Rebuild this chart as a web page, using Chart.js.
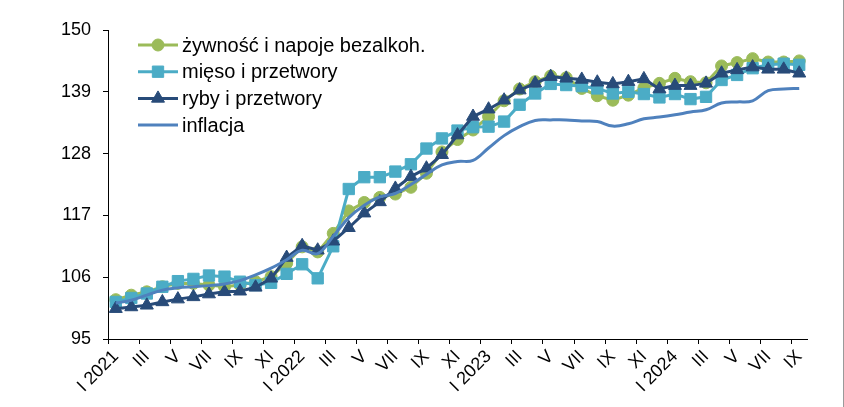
<!DOCTYPE html>
<html>
<head>
<meta charset="utf-8">
<script src="https://cdn.jsdelivr.net/npm/chart.js@4"></script>
<style>
  body { margin: 0; background: #fff; }
  #wrap { width: 844px; height: 407px; position: relative; }
</style>
</head>
<body>
<div id="wrap"><canvas id="chart"></canvas></div>
<script>
// months I 2021 .. IX 2024
const months = [
  "I 2021", "II", "III", "IV", "V", "VI", "VII", "VIII", "IX", "X", "XI", "XII",
  "I 2022", "II", "III", "IV", "V", "VI", "VII", "VIII", "IX", "X", "XI", "XII",
  "I 2023", "II", "III", "IV", "V", "VI", "VII", "VIII", "IX", "X", "XI", "XII",
  "I 2024", "II", "III", "IV", "V", "VI", "VII", "VIII", "IX"
];

const seriesNames = ["żywność i napoje bezalkoh.", "mięso i przetwory", "ryby i przetwory", "inflacja"];

const zywnosc = [102.0, 102.8, 103.4, 104.3, 104.9, 104.9, 104.6, 104.3, 104.6, 105.2, 106.1, 108.5,
  111.4, 110.5, 113.8, 117.8, 119.3, 120.2, 120.8, 122.0, 124.5, 128.3, 130.5, 132.2,
  134.6, 137.4, 139.5, 140.8, 141.8, 141.5, 139.6, 138.3, 137.5, 138.4, 139.7, 140.5,
  141.4, 140.8, 140.6, 143.6, 144.2, 144.9, 144.3, 144.3, 144.5];

const mieso = [101.6, 102.3, 103.1, 104.3, 105.3, 105.7, 106.3, 106.1, 105.2, 104.6, 105.0, 106.6,
  108.3, 105.8, 111.5, 121.7, 123.8, 123.8, 124.8, 126.1, 128.9, 130.7, 132.1, 132.7,
  132.8, 133.7, 136.7, 138.7, 140.4, 140.2, 140.0, 139.6, 138.7, 139.0, 138.6, 138.0,
  138.6, 137.7, 138.1, 141.1, 142.0, 143.2, 143.8, 144.0, 143.8];

const ryby = [100.4, 100.7, 101.0, 101.6, 102.1, 102.5, 103.0, 103.4, 103.5, 104.2, 105.8, 109.5,
  111.6, 110.8, 112.4, 114.8, 117.4, 119.4, 121.8, 123.9, 125.4, 127.8, 131.3, 134.6,
  135.9, 137.5, 139.3, 140.5, 141.7, 141.4, 141.2, 140.7, 140.4, 140.8, 141.3, 139.5,
  140.1, 140.1, 140.5, 142.3, 142.9, 143.4, 143.0, 143.0, 142.3];

const inflacja = [101.4, 101.9, 102.8, 103.7, 104.1, 104.3, 104.5, 104.8, 105.4, 106.4, 107.6, 109.1,
  110.8, 110.2, 113.3, 116.6, 118.8, 120.3, 120.9, 122.5, 124.3, 126.0, 126.6, 126.8,
  129.0, 131.2, 132.8, 133.9, 134.0, 134.0, 133.8, 133.7, 132.9, 133.3, 134.2, 134.5,
  134.9, 135.4, 135.8, 137.0, 137.2, 137.4, 139.2, 139.5, 139.6];

const yTicks = [95, 106, 117, 128, 139, 150];

const FONT = "'Liberation Sans', Arial, sans-serif";

// legend drawn inside the plot, Excel style (line with marker)
const insideLegend = {
  id: "insideLegend",
  afterDraw(chart) {
    const ctx = chart.ctx;
    const x0 = 138, x1 = 178, top = 45, gap = 26.7;
    chart.data.datasets.forEach((ds, i) => {
      const y = top + i * gap;
      ctx.save();
      ctx.strokeStyle = ds.borderColor;
      ctx.lineWidth = 3;
      ctx.beginPath();
      ctx.moveTo(x0, y);
      ctx.lineTo(x1, y);
      ctx.stroke();
      if (ds.pointStyle) {
        ctx.fillStyle = ds.pointBackgroundColor;
        ctx.strokeStyle = ds.pointBackgroundColor;
        ctx.lineWidth = 1;
        Chart.helpers.drawPoint(ctx, {
          pointStyle: ds.pointStyle, radius: ds.pointRadius, rotation: 0, borderWidth: 1
        }, (x0 + x1) / 2, y);
      }
      ctx.fillStyle = "#000";
      ctx.font = "20px " + FONT;
      ctx.textBaseline = "middle";
      ctx.fillText(ds.label, x1 + 4, y + 1);
      ctx.restore();
    });
    // thin frame edge on the right, as in the source image
    ctx.save();
    ctx.strokeStyle = "#9a9a9a";
    ctx.lineWidth = 1;
    ctx.beginPath();
    ctx.moveTo(843.5, 0);
    ctx.lineTo(843.5, chart.height);
    ctx.stroke();
    ctx.restore();
  }
};

function lineSet(label, data, color, style, radius, order) {
  return {
    label: label,
    data: data,
    borderColor: color,
    backgroundColor: color,
    pointBackgroundColor: color,
    pointBorderColor: color,
    pointBorderWidth: 1,
    borderWidth: 3,
    pointStyle: style,
    pointRadius: radius,
    tension: 0,
    order: order
  };
}

const datasets = [
  lineSet(seriesNames[0], zywnosc, "#9BBB59", "circle", 6, 4),
  lineSet(seriesNames[1], mieso, "#4BACC6", "rect", 8, 3),
  lineSet(seriesNames[2], ryby, "#284B79", "triangle", 7.5, 2),
  Object.assign(lineSet(seriesNames[3], inflacja, "#4F81BD", false, 0, 1), { tension: 0.4 })
];

new Chart(document.getElementById("chart"), {
  type: "line",
  data: { labels: months, datasets: datasets },
  plugins: [insideLegend],
  options: {
    responsive: true,
    maintainAspectRatio: false,
    animation: false,
    layout: { padding: { top: 30, right: 37, left: 0, bottom: 0 } },
    plugins: { legend: { display: false }, tooltip: { enabled: false } },
    scales: {
      x: {
        offset: true,
        grid: {
          offset: true,
          drawOnChartArea: false,
          tickLength: 5,
          color: (c) => (c.index % 2 === 0 ? "#000" : "rgba(0,0,0,0)")
        },
        border: { color: "#000", width: 1 },
        ticks: {
          autoSkip: false,
          maxRotation: 45,
          minRotation: 45,
          padding: 2,
          color: "#000",
          font: { family: FONT, size: 18 },
          callback: (v, i) => (i % 2 === 0 ? months[i] : "")
        },
        afterFit: (s) => { s.height = 68; }
      },
      y: {
        min: yTicks[0],
        max: yTicks[yTicks.length - 1],
        afterBuildTicks: (s) => { s.ticks = yTicks.map((v) => ({ value: v })); },
        grid: { drawOnChartArea: false, tickLength: 5, color: "#000" },
        border: { color: "#000", width: 1 },
        ticks: {
          padding: 12,
          color: "#000",
          font: { family: FONT, size: 18 }
        },
        afterFit: (s) => { s.width = 108; }
      }
    }
  }
});
</script>
</body>
</html>
